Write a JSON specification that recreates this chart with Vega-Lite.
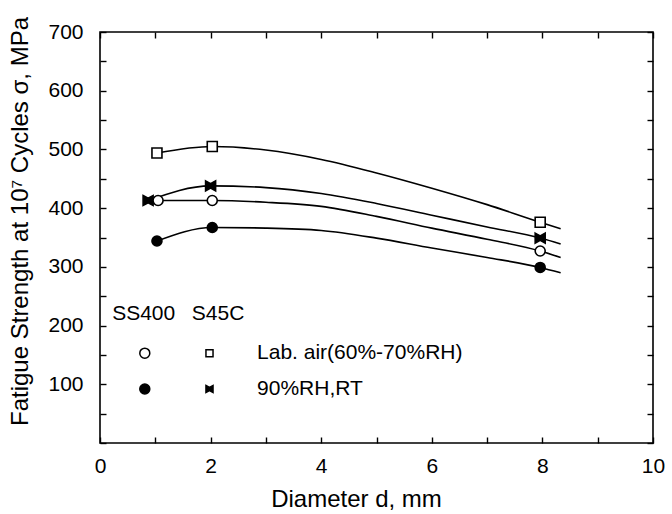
{
  "$schema": "https://vega.github.io/schema/vega-lite/v6.json",
  "width": 553,
  "height": 411,
  "autosize": {"type": "none"},
  "padding": {"left": 100, "top": 32, "right": 19, "bottom": 71},
  "background": "white",
  "config": {
    "view": {"stroke": "black", "strokeWidth": 1.6},
    "font": "Liberation Sans Narrow, Liberation Sans, sans-serif",
    "axis": {"domain": false, "grid": false, "labelFlush": false, "tickColor": "black", "tickWidth": 1.4, "labelColor": "black", "titleColor": "black", "labelFontSize": 21, "titleFontSize": 21, "titleFontWeight": "normal"}
  },
  "datasets": {
    "markers": [
      {"series": "S45C lab", "d": 1.03, "sigma": 494},
      {"series": "S45C lab", "d": 2.03, "sigma": 505},
      {"series": "S45C lab", "d": 7.96, "sigma": 376},
      {"series": "S45C RH", "d": 0.87, "sigma": 413},
      {"series": "S45C RH", "d": 2.0, "sigma": 438},
      {"series": "S45C RH", "d": 7.96, "sigma": 349},
      {"series": "SS400 lab", "d": 1.05, "sigma": 413},
      {"series": "SS400 lab", "d": 2.03, "sigma": 413},
      {"series": "SS400 lab", "d": 7.96, "sigma": 327},
      {"series": "SS400 RH", "d": 1.03, "sigma": 344},
      {"series": "SS400 RH", "d": 2.03, "sigma": 367},
      {"series": "SS400 RH", "d": 7.96, "sigma": 299}
    ],
    "curves": [
      {"series": "S45C lab", "d": 1.03, "sigma": 494},
      {"series": "S45C lab", "d": 2.03, "sigma": 505},
      {"series": "S45C lab", "d": 3, "sigma": 499},
      {"series": "S45C lab", "d": 4, "sigma": 483},
      {"series": "S45C lab", "d": 5, "sigma": 460},
      {"series": "S45C lab", "d": 6, "sigma": 434},
      {"series": "S45C lab", "d": 7, "sigma": 406},
      {"series": "S45C lab", "d": 7.96, "sigma": 376},
      {"series": "S45C lab", "d": 8.33, "sigma": 365},
      {"series": "S45C RH", "d": 0.87, "sigma": 413},
      {"series": "S45C RH", "d": 2.0, "sigma": 438},
      {"series": "S45C RH", "d": 3, "sigma": 435},
      {"series": "S45C RH", "d": 4, "sigma": 425},
      {"series": "S45C RH", "d": 5, "sigma": 408},
      {"series": "S45C RH", "d": 6, "sigma": 388},
      {"series": "S45C RH", "d": 7, "sigma": 368},
      {"series": "S45C RH", "d": 7.96, "sigma": 349},
      {"series": "S45C RH", "d": 8.33, "sigma": 339},
      {"series": "SS400 lab", "d": 1.05, "sigma": 413},
      {"series": "SS400 lab", "d": 2.03, "sigma": 413},
      {"series": "SS400 lab", "d": 3, "sigma": 410},
      {"series": "SS400 lab", "d": 4, "sigma": 403},
      {"series": "SS400 lab", "d": 5, "sigma": 386},
      {"series": "SS400 lab", "d": 6, "sigma": 366},
      {"series": "SS400 lab", "d": 7, "sigma": 347},
      {"series": "SS400 lab", "d": 7.96, "sigma": 327},
      {"series": "SS400 lab", "d": 8.33, "sigma": 316},
      {"series": "SS400 RH", "d": 1.03, "sigma": 344},
      {"series": "SS400 RH", "d": 2.03, "sigma": 367},
      {"series": "SS400 RH", "d": 3, "sigma": 366},
      {"series": "SS400 RH", "d": 4, "sigma": 362},
      {"series": "SS400 RH", "d": 5, "sigma": 349},
      {"series": "SS400 RH", "d": 6, "sigma": 332},
      {"series": "SS400 RH", "d": 7, "sigma": 316},
      {"series": "SS400 RH", "d": 7.96, "sigma": 299},
      {"series": "SS400 RH", "d": 8.33, "sigma": 290}
    ],
    "legendSymbols": [
      {"series": "SS400 lab", "d": 0.81, "sigma": 153},
      {"series": "S45C lab", "d": 1.98, "sigma": 153},
      {"series": "SS400 RH", "d": 0.81, "sigma": 92},
      {"series": "S45C RH", "d": 1.98, "sigma": 92}
    ],
    "legendText": [
      {"label": "SS400", "d": 0.22, "sigma": 220},
      {"label": "S45C", "d": 1.66, "sigma": 220},
      {"label": "Lab. air(60%-70%RH)", "d": 2.84, "sigma": 153},
      {"label": "90%RH,RT", "d": 2.84, "sigma": 92}
    ]
  },
  "layer": [
    {
      "data": {"name": "curves"},
      "mark": {"type": "line", "interpolate": "monotone", "color": "black", "strokeWidth": 1.6},
      "encoding": {
        "x": {"field": "d", "type": "quantitative", "scale": {"domain": [0, 10], "nice": false},
          "axis": {"orient": "bottom", "values": [0,1,2,3,4,5,6,7,8,9,10], "labelExpr": "datum.value % 2 == 0 ? datum.label : ''", "tickSize": -6, "labelPadding": 18, "title": "Diameter d, mm", "titleFontSize": 24, "titleX": 256, "titleY": 56, "titleAlign": "center", "titleBaseline": "middle"}},
        "y": {"field": "sigma", "type": "quantitative", "scale": {"domain": [0, 700], "nice": false},
          "axis": {"orient": "left", "values": [0,50,100,150,200,250,300,350,400,450,500,550,600,650,700], "labelExpr": "datum.value % 100 == 0 && datum.value > 0 ? datum.label : ''", "tickSize": -6, "labelPadding": 23, "title": "Fatigue Strength at 10⁷ Cycles σ, MPa", "titleFontSize": 24, "titleAngle": -90, "titleX": -80, "titleY": 189, "titleAlign": "center", "titleBaseline": "middle"}},
        "detail": {"field": "series"}
      }
    },
    {
      "data": {"name": "markers"},
      "mark": {"type": "point", "filled": false, "stroke": "black", "strokeWidth": 1.6, "size": 100, "opacity": 1},
      "encoding": {
        "x": {"field": "d", "type": "quantitative", "axis": {"orient": "top", "values": [0,1,2,3,4,5,6,7,8,9,10], "labels": false, "tickSize": -6, "title": null}},
        "y": {"field": "sigma", "type": "quantitative", "axis": {"orient": "right", "values": [0,50,100,150,200,250,300,350,400,450,500,550,600,650,700], "labels": false, "tickSize": -6, "title": null}},
        "shape": {"field": "series", "type": "nominal", "legend": null, "scale": {"domain": ["S45C lab", "S45C RH", "SS400 lab", "SS400 RH"], "range": ["square", "M-1,-1L0,-0.45L1,-1L1,1L0,0.45L-1,1Z", "circle", "circle"]}},
        "fill": {"field": "series", "type": "nominal", "legend": null, "scale": {"domain": ["S45C lab", "S45C RH", "SS400 lab", "SS400 RH"], "range": ["white", "black", "white", "black"]}}
      }
    },
    {
      "data": {"name": "legendSymbols"},
      "transform": [{"filter": "indexof(datum.series, 'SS400') == 0"}],
      "mark": {"type": "point", "filled": false, "stroke": "black", "strokeWidth": 1.5, "size": 100, "opacity": 1},
      "encoding": {
        "x": {"field": "d", "type": "quantitative", "axis": null},
        "y": {"field": "sigma", "type": "quantitative", "axis": null},
        "shape": {"field": "series", "type": "nominal", "legend": null},
        "fill": {"field": "series", "type": "nominal", "legend": null}
      }
    },
    {
      "data": {"name": "legendSymbols"},
      "transform": [{"filter": "indexof(datum.series, 'S45C') == 0"}],
      "mark": {"type": "point", "filled": false, "stroke": "black", "strokeWidth": 1.5, "size": 50, "opacity": 1},
      "encoding": {
        "x": {"field": "d", "type": "quantitative", "axis": null},
        "y": {"field": "sigma", "type": "quantitative", "axis": null},
        "shape": {"field": "series", "type": "nominal", "legend": null},
        "fill": {"field": "series", "type": "nominal", "legend": null}
      }
    },
    {
      "data": {"name": "legendText"},
      "mark": {"type": "text", "align": "left", "baseline": "middle", "fontSize": 21, "color": "black"},
      "encoding": {
        "x": {"field": "d", "type": "quantitative", "axis": null},
        "y": {"field": "sigma", "type": "quantitative", "axis": null},
        "text": {"field": "label", "type": "nominal"}
      }
    }
  ],
  "resolve": {"axis": {"x": "independent", "y": "independent"}}
}
